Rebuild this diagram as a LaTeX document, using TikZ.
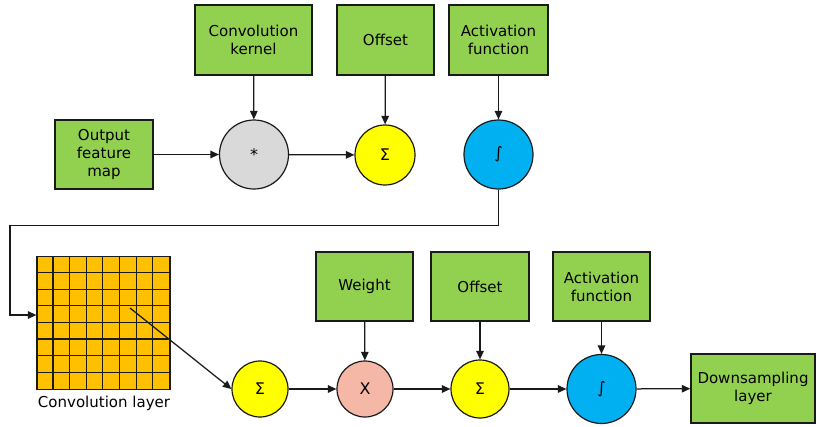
\documentclass[tikz,border=0pt]{standalone}
\usepackage{fontspec}
\setmainfont{DejaVu Sans}
\usetikzlibrary{arrows.meta,calc}
\definecolor{boxgreen}{HTML}{92D050}
\definecolor{sumyellow}{HTML}{FFFF00}
\definecolor{actblue}{HTML}{00B0F0}
\definecolor{convgray}{HTML}{D9D9D9}
\definecolor{gridorange}{HTML}{FFC000}
\definecolor{mulpink}{HTML}{F6B8A6}
\definecolor{edge}{HTML}{1A1A1A}
\begin{document}
\begin{tikzpicture}[x=1pt,y=-1pt,
  txt/.style={font=\fontsize{15}{18}\selectfont, text=black, align=center},
  sym/.style={font=\fontsize{16}{18}\selectfont, text=black},
  gbox/.style={txt, draw=edge, line width=1.4pt, fill=boxgreen, inner sep=0pt},
  opcirc/.style={sym, circle, draw=edge, line width=1.2pt, inner sep=0pt},
  arr/.style={draw=edge, line width=1.25pt, -{Triangle[length=8.5pt,width=7.5pt]}},
  ln/.style={draw=edge, line width=1.25pt}]
\useasboundingbox (0,0) rectangle (817,426);
% top row
\node[gbox, minimum width=117pt, minimum height=70pt] (kernel) at (253.5,40) {Convolution\\kernel};
\node[gbox, minimum width=97pt, minimum height=70pt] (off1) at (385.5,40) {Offset};
\node[gbox, minimum width=99pt, minimum height=70pt] (act1box) at (498.5,40) {Activation\\function};
\node[gbox, minimum width=98pt, minimum height=69pt] (ofm) at (104,154.5) {Output\\feature\\map};
\node[opcirc, fill=convgray, minimum size=69pt] (conv) at (254,154.5) {*};
\node[opcirc, fill=sumyellow, minimum size=60pt] (sum1) at (385,155) {Σ};
\node[opcirc, fill=actblue, minimum size=69pt] (act1) at (498.5,154.5) {∫};
\draw[arr] (kernel) -- (conv);
\draw[arr] (off1) -- (sum1);
\draw[arr] (act1box) -- (act1);
\draw[arr] (ofm) -- (conv);
\draw[arr] (conv) -- (sum1);
% grid
\node[draw=edge, line width=1.2pt, fill=gridorange, minimum size=133pt, inner sep=0pt] (grid) at (103.5,323) {};
\foreach \i in {1,...,7}{
  \draw[edge, line width=1.1pt] ($(grid.north west)+(\i*16.625,0)$) -- ($(grid.south west)+(\i*16.625,0)$);
  \draw[edge, line width=1.1pt] ($(grid.north west)+(0,\i*16.625)$) -- ($(grid.north east)+(0,\i*16.625)$);
}
\node[txt, anchor=north] (gridlabel) at (104,393) {Convolution layer};
\coordinate (bend) at (10,225.5);
\coordinate (gin) at (grid.west |- 0,315);
\coordinate (gsrc) at (130,308);
\draw[arr] (act1.south) |- (bend) |- (gin);
% bottom row
\node[opcirc, fill=sumyellow, minimum size=56pt] (sum2) at (260,389) {Σ};
\node[opcirc, fill=mulpink, minimum size=56pt] (mul) at (365,389) {X};
\node[opcirc, fill=sumyellow, minimum size=58pt] (sum3) at (480,389) {Σ};
\node[opcirc, fill=actblue, minimum size=69pt] (act2) at (601.5,389) {∫};
\node[gbox, minimum width=97pt, minimum height=69pt] (weight) at (364.5,286.5) {Weight};
\node[gbox, minimum width=98pt, minimum height=69pt] (off2) at (480,286.5) {Offset};
\node[gbox, minimum width=97pt, minimum height=69pt] (act2box) at (601.5,286.5) {Activation\\function};
\node[gbox, minimum width=124pt, minimum height=69pt] (down) at (753,388.5) {Downsampling\\layer};
\draw[arr] (gsrc) -- (sum2.west);
\draw[arr] (sum2) -- (mul);
\draw[arr] (mul) -- (sum3);
\draw[arr] (sum3) -- (act2);
\draw[arr] (act2) -- (down);
\draw[arr] (weight) -- (mul);
\draw[arr] (off2) -- (sum3);
\draw[arr] (act2box) -- (act2);
\end{tikzpicture}
\end{document}
